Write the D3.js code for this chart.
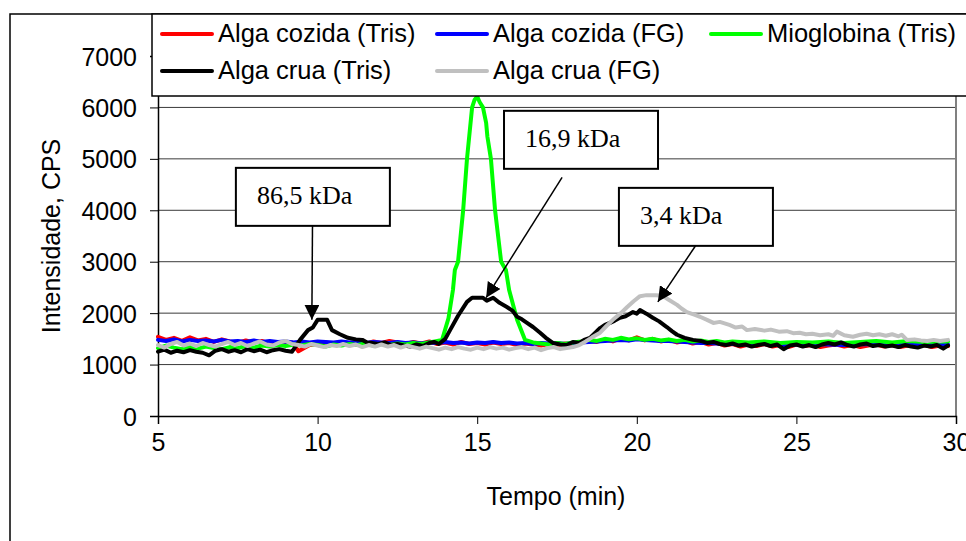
<!DOCTYPE html>
<html>
<head>
<meta charset="utf-8">
<script src="https://cdn.jsdelivr.net/npm/d3@7"></script>
<style>
  body { margin: 0; background: #fff; }
  svg { display: block; }
  .tick-label, .legend-label, .axis-title { font-family: "Liberation Sans", Arial, sans-serif; fill: #000; }
  .note { font-family: "Liberation Serif", "Times New Roman", serif; font-size: 26px; fill: #000; }
</style>
</head>
<body>
<div id="chart"></div>
<script>
// tempo (min), intensidade (CPS)
const algaCozidaTris = [
  [5.0,1540],[5.25,1480],[5.5,1520],[5.75,1460],[6.0,1530],[6.25,1470],[6.5,1500],[6.75,1440],
  [7.0,1490],[7.25,1450],[7.5,1420],[7.75,1470],[8.0,1430],[8.25,1460],[8.5,1410],[8.75,1440],
  [9.0,1400],[9.2,1430],[9.4,1260],[9.75,1380],[10.0,1400],[10.25,1430],[10.5,1390],[10.75,1420],
  [11.0,1380],[11.25,1430],[11.5,1400],[11.75,1450],[12.0,1420],[12.25,1460],[12.5,1430],[12.75,1400],
  [13.0,1440],[13.25,1410],[13.5,1450],[13.75,1400],[14.0,1430],[14.25,1390],[14.5,1440],[14.75,1400],
  [15.0,1420],[15.25,1390],[15.5,1430],[15.75,1400],[16.0,1420],[16.25,1380],[16.5,1410],[16.75,1390],
  [17.0,1370],[17.25,1400],[17.5,1380],[17.75,1410],[18.0,1390],[18.25,1430],[18.5,1460],[18.75,1440],
  [19.0,1490],[19.25,1450],[19.5,1510],[19.75,1470],[20.0,1530],[20.25,1470],[20.5,1500],[20.75,1450],
  [21.0,1480],[21.25,1430],[21.5,1460],[21.75,1410],[22.0,1440],[22.25,1390],[22.5,1420],[22.75,1370],
  [23.0,1400],[23.25,1350],[23.5,1390],[23.75,1360],[24.0,1400],[24.25,1350],[24.5,1380],[24.75,1340],
  [25.0,1390],[25.25,1360],[25.5,1380],[25.75,1340],[26.0,1370],[26.25,1390],[26.5,1350],[26.75,1380],
  [27.0,1340],[27.25,1370],[27.5,1390],[27.75,1350],[28.0,1380],[28.25,1340],[28.5,1370],[28.75,1350],
  [29.0,1380],[29.25,1340],[29.5,1370],[29.75,1360]
];

const algaCozidaFG = [
  [5.0,1480],[5.25,1460],[5.5,1490],[5.75,1450],[6.0,1480],[6.25,1460],[6.5,1470],[6.75,1450],
  [7.0,1480],[7.25,1450],[7.5,1460],[7.75,1440],[8.0,1470],[8.25,1440],[8.5,1460],[8.75,1440],
  [9.0,1450],[9.25,1430],[9.5,1450],[9.75,1430],[10.0,1450],[10.25,1440],[10.5,1430],[10.75,1450],
  [11.0,1430],[11.25,1440],[11.5,1420],[11.75,1440],[12.0,1430],[12.25,1420],[12.5,1440],[12.75,1420],
  [13.0,1430],[13.25,1410],[13.5,1430],[13.75,1420],[14.0,1440],[14.25,1420],[14.5,1430],[14.75,1410],
  [15.0,1430],[15.25,1420],[15.5,1440],[15.75,1420],[16.0,1430],[16.25,1410],[16.5,1420],[16.75,1400],
  [17.0,1420],[17.25,1410],[17.5,1420],[17.75,1400],[18.0,1420],[18.25,1430],[18.5,1440],[18.75,1450],
  [19.0,1460],[19.25,1470],[19.5,1480],[19.75,1470],[20.0,1490],[20.25,1480],[20.5,1470],[20.75,1460],
  [21.0,1460],[21.25,1450],[21.5,1440],[21.75,1430],[22.0,1420],[22.25,1420],[22.5,1410],[22.75,1400],
  [23.0,1400],[23.5,1390],[24.0,1400],[24.5,1380],[25.0,1390],[25.5,1400],[26.0,1390],[26.5,1380],
  [27.0,1400],[27.5,1390],[28.0,1400],[28.5,1380],[29.0,1390],[29.75,1390]
];

const mioglobinaTris = [
  [5.0,1320],[5.25,1370],[5.5,1330],[5.75,1300],[6.0,1340],[6.25,1310],[6.5,1350],[6.75,1320],
  [7.0,1300],[7.25,1340],[7.5,1320],[7.75,1360],[8.0,1330],[8.25,1370],[8.5,1350],[8.75,1380],
  [9.0,1360],[9.25,1390],[9.5,1370],[9.75,1400],[10.0,1380],[10.25,1350],[10.5,1390],[10.75,1370],
  [11.0,1400],[11.25,1380],[11.5,1410],[11.75,1370],[12.0,1400],[12.25,1380],[12.5,1410],[12.75,1390],
  [13.0,1420],[13.25,1400],[13.5,1430],[13.75,1460],[13.9,1480],[14.1,1900],[14.24,2450],[14.3,2840],
  [14.4,3000],[14.56,4000],[14.68,5000],[14.84,6000],[14.92,6150],[15.0,6210],[15.08,6100],[15.18,6000],
  [15.28,5700],[15.32,5430],[15.43,5000],[15.56,4000],[15.75,3000],[15.9,2840],[16.0,2450],[16.25,1870],
  [16.5,1480],[16.75,1430],[17.0,1410],[17.25,1390],[17.5,1420],[17.75,1400],[18.0,1430],[18.25,1450],
  [18.5,1480],[18.75,1460],[19.0,1500],[19.25,1480],[19.5,1520],[19.75,1490],[20.0,1510],[20.25,1480],
  [20.5,1500],[20.75,1470],[21.0,1490],[21.25,1460],[21.5,1480],[21.75,1450],[22.0,1470],[22.25,1440],
  [22.5,1460],[22.75,1430],[23.0,1450],[23.5,1430],[24.0,1450],[24.5,1420],[25.0,1440],[25.5,1430],
  [26.0,1450],[26.5,1420],[27.0,1440],[27.5,1460],[28.0,1430],[28.5,1460],[29.0,1440],[29.75,1450]
];

const algaCruaTris = [
  [5.0,1250],[5.2,1290],[5.4,1230],[5.6,1270],[5.8,1240],[6.0,1280],[6.2,1250],[6.4,1230],
  [6.6,1180],[6.8,1270],[7.0,1300],[7.2,1250],[7.4,1280],[7.6,1240],[7.8,1300],[8.0,1260],
  [8.2,1290],[8.4,1240],[8.6,1280],[8.8,1300],[9.0,1270],[9.2,1250],[9.45,1480],[9.7,1670],
  [9.85,1720],[10.0,1870],[10.3,1870],[10.45,1670],[10.7,1590],[10.95,1520],[11.2,1490],[11.4,1480],
  [11.55,1430],[11.7,1420],[11.9,1400],[12.1,1430],[12.3,1380],[12.5,1400],[12.7,1370],[12.9,1350],
  [13.1,1390],[13.3,1360],[13.5,1420],[13.65,1440],[13.8,1400],[14.0,1500],[14.15,1670],[14.4,1950],
  [14.68,2220],[14.84,2300],[15.18,2300],[15.3,2240],[15.5,2300],[15.7,2200],[15.93,2120],[16.1,2050],
  [16.25,1930],[16.4,1880],[16.56,1810],[16.75,1730],[16.97,1620],[17.15,1520],[17.37,1420],[17.6,1390],
  [17.8,1380],[18.0,1440],[18.2,1420],[18.35,1480],[18.53,1520],[18.7,1620],[18.85,1710],[19.0,1770],
  [19.16,1810],[19.3,1850],[19.47,1910],[19.65,1940],[19.88,2020],[20.0,1990],[20.1,2060],[20.3,1990],
  [20.5,1910],[20.7,1840],[20.94,1730],[21.1,1650],[21.26,1580],[21.5,1520],[21.76,1480],[22.0,1460],
  [22.2,1420],[22.4,1440],[22.6,1400],[22.8,1380],[23.0,1410],[23.2,1370],[23.4,1390],[23.6,1350],
  [23.8,1380],[24.0,1400],[24.2,1360],[24.4,1390],[24.6,1300],[24.8,1370],[25.0,1390],[25.2,1350],
  [25.4,1380],[25.6,1340],[25.8,1390],[26.0,1420],[26.2,1390],[26.4,1430],[26.6,1380],[26.8,1350],
  [27.0,1390],[27.2,1410],[27.4,1360],[27.6,1380],[27.8,1350],[28.0,1370],[28.2,1340],[28.4,1380],
  [28.6,1350],[28.8,1330],[29.0,1370],[29.2,1350],[29.4,1380],[29.6,1310],[29.75,1370]
];

const algaCruaFG = [
  [5.0,1380],[5.2,1330],[5.4,1400],[5.6,1440],[5.8,1370],[6.0,1410],[6.2,1360],[6.4,1420],
  [6.6,1380],[6.8,1350],[7.0,1400],[7.2,1440],[7.4,1380],[7.6,1420],[7.8,1360],[8.0,1410],
  [8.2,1450],[8.4,1390],[8.6,1370],[8.8,1430],[9.0,1460],[9.2,1400],[9.4,1380],[9.6,1350],
  [9.8,1400],[10.0,1370],[10.2,1340],[10.4,1380],[10.6,1360],[10.8,1400],[11.0,1360],[11.2,1390],
  [11.4,1340],[11.6,1380],[11.8,1350],[12.0,1390],[12.2,1350],[12.4,1380],[12.6,1330],[12.8,1370],
  [13.0,1340],[13.2,1310],[13.4,1350],[13.6,1320],[13.8,1290],[14.0,1330],[14.2,1300],[14.4,1340],
  [14.6,1310],[14.8,1290],[15.0,1330],[15.2,1300],[15.4,1340],[15.6,1310],[15.8,1330],[16.0,1290],
  [16.2,1320],[16.4,1340],[16.6,1300],[16.8,1330],[17.0,1280],[17.2,1320],[17.4,1340],[17.6,1300],
  [17.8,1320],[18.0,1340],[18.2,1380],[18.4,1450],[18.6,1530],[18.85,1620],[19.05,1750],[19.25,1870],
  [19.5,2000],[19.7,2120],[19.9,2230],[20.1,2330],[20.3,2350],[20.6,2350],[20.8,2340],[21.0,2260],
  [21.26,2160],[21.4,2090],[21.57,2020],[21.8,1970],[21.98,1930],[22.2,1870],[22.4,1810],[22.6,1830],
  [22.9,1770],[23.1,1720],[23.3,1740],[23.45,1670],[23.7,1690],[24.0,1660],[24.2,1680],[24.45,1640],
  [24.7,1650],[24.9,1610],[25.1,1620],[25.3,1590],[25.5,1600],[25.74,1570],[26.0,1590],[26.15,1560],
  [26.27,1640],[26.5,1570],[26.77,1540],[27.0,1580],[27.2,1600],[27.4,1570],[27.6,1590],[27.8,1560],
  [28.0,1590],[28.2,1550],[28.3,1580],[28.46,1480],[28.7,1490],[28.9,1470],[29.1,1460],[29.3,1480],
  [29.5,1460],[29.75,1480]
];

const seriesNames = ['Alga cozida (Tris)', 'Alga cozida (FG)', 'Mioglobina (Tris)', 'Alga crua (Tris)', 'Alga crua (FG)'];
const seriesData = [algaCozidaTris, algaCozidaFG, mioglobinaTris, algaCruaTris, algaCruaFG];
const xTicks = [5, 10, 15, 20, 25, 30];
const yTicks = [0, 1000, 2000, 3000, 4000, 5000, 6000, 7000];

// caixas de massa molecular: canto da caixa, ponto de saida da seta, ponta da seta
const noteLabels = ['86,5 kDa', '16,9 kDa', '3,4 kDa'];
const noteBox = [[7.44, 4825], [15.84, 5934], [19.44, 4436]];
const noteFrom = [[9.84, 3700], [17.66, 4640], [21.84, 3310]];
const noteTo = [[9.82, 1870], [15.28, 2300], [20.66, 2220]];

const colors = ['#ff0000', '#0000ff', '#00ff00', '#000000', '#c0c0c0'];

const width = 966, height = 541;

const svg = d3.select('#chart').append('svg')
  .attr('width', width)
  .attr('height', height);

svg.append('defs').append('marker')
  .attr('id', 'arrow')
  .attr('markerUnits', 'userSpaceOnUse')
  .attr('viewBox', '0 0 14 14')
  .attr('refX', 14).attr('refY', 7)
  .attr('markerWidth', 15).attr('markerHeight', 15)
  .attr('orient', 'auto')
  .append('path')
  .attr('d', 'M0,0 L14,7 L0,14 Z')
  .attr('fill', '#000');

// moldura externa
svg.append('rect')
  .attr('x', 10).attr('y', 14)
  .attr('width', 980).attr('height', 560)
  .attr('fill', 'none').attr('stroke', '#000').attr('stroke-width', 1.5);

const x = d3.scaleLinear().domain([5, 30]).range([158, 956]);
const y = d3.scaleLinear().domain([0, 7000]).range([416, 56]);

// grade
svg.append('g').selectAll('line')
  .data(yTicks.filter(d => d > 0))
  .enter().append('line')
  .attr('x1', x(5)).attr('x2', x(30))
  .attr('y1', d => y(d)).attr('y2', d => y(d))
  .attr('stroke', '#3a3a3a').attr('stroke-width', 1);

// borda direita da area do grafico
svg.append('line')
  .attr('x1', x(30)).attr('x2', x(30))
  .attr('y1', y(7000)).attr('y2', y(0))
  .attr('stroke', '#808080').attr('stroke-width', 2);

const xAxis = svg.append('g')
  .attr('transform', `translate(0,${y(0)})`)
  .call(d3.axisBottom(x).tickValues(xTicks).tickSize(8).tickPadding(9).tickFormat(d3.format('d')));

const yAxis = svg.append('g')
  .attr('transform', `translate(${x(5)},0)`)
  .call(d3.axisLeft(y).tickValues(yTicks).tickSize(8).tickPadding(13).tickFormat(d3.format('d')));

[xAxis, yAxis].forEach(a => {
  a.select('.domain').attr('stroke', '#000').attr('stroke-width', 1.5);
  a.selectAll('.tick line').attr('stroke', '#000').attr('stroke-width', 1);
  a.selectAll('.tick text')
    .attr('class', 'tick-label')
    .style('font-size', '25px')
    .attr('fill', '#000');
});
yAxis.selectAll('.tick text').attr('dy', '0.36em');

// series
const line = d3.line()
  .x(d => x(d[0]))
  .y(d => y(d[1]));

svg.append('g').selectAll('path')
  .data(seriesData)
  .enter().append('path')
  .attr('d', line)
  .attr('fill', 'none')
  .attr('stroke', (d, i) => colors[i])
  .attr('stroke-width', 4)
  .attr('stroke-linejoin', 'round')
  .attr('stroke-linecap', 'round');

// anotacoes
const notes = svg.append('g');
noteLabels.forEach((label, i) => {
  notes.append('line')
    .attr('x1', x(noteFrom[i][0])).attr('y1', y(noteFrom[i][1]))
    .attr('x2', x(noteTo[i][0])).attr('y2', y(noteTo[i][1]))
    .attr('stroke', '#000').attr('stroke-width', 1.5)
    .attr('marker-end', 'url(#arrow)');
  const bx = x(noteBox[i][0]), by = y(noteBox[i][1]);
  notes.append('rect')
    .attr('x', bx).attr('y', by)
    .attr('width', 154).attr('height', 58)
    .attr('fill', '#fff').attr('stroke', '#000').attr('stroke-width', 2);
  notes.append('text')
    .attr('class', 'note')
    .attr('x', bx + 21).attr('y', by + 36)
    .text(label);
});

// titulos dos eixos
svg.append('text')
  .attr('class', 'axis-title')
  .attr('x', 556).attr('y', 505)
  .attr('text-anchor', 'middle')
  .style('font-size', '25px')
  .text('Tempo (min)');

svg.append('text')
  .attr('class', 'axis-title')
  .attr('transform', 'translate(60,236) rotate(-90)')
  .attr('text-anchor', 'middle')
  .style('font-size', '25px')
  .text('Intensidade, CPS');

// legenda
const legend = svg.append('g');
legend.append('rect')
  .attr('x', 152).attr('y', 14)
  .attr('width', 830).attr('height', 82)
  .attr('fill', '#fff').attr('stroke', '#000').attr('stroke-width', 1.5);

const legendCols = [162, 437, 711];
const legendRows = [34, 71];
seriesNames.forEach((name, i) => {
  const lx = legendCols[i % 3], ly = legendRows[Math.floor(i / 3)];
  legend.append('line')
    .attr('x1', lx).attr('x2', lx + 50)
    .attr('y1', ly).attr('y2', ly)
    .attr('stroke', colors[i]).attr('stroke-width', 4)
    .attr('stroke-linecap', 'round');
  legend.append('text')
    .attr('class', 'legend-label')
    .attr('x', lx + 56).attr('y', ly + 8)
    .style('font-size', '25.5px')
    .text(name);
});
</script>
</body>
</html>
